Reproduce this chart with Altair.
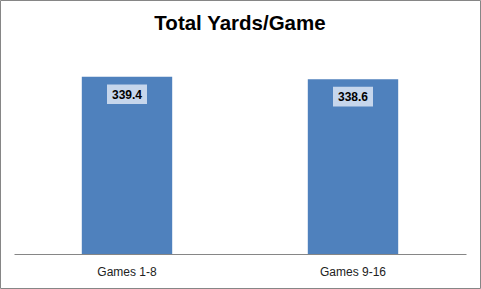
import altair as alt
import pandas as pd

categories = ["Games 1-8", "Games 9-16"]
values = [339.4, 338.6]
labels = ["339.4", "338.6"]

df = pd.DataFrame({"cat": categories, "value": values, "label": labels})

FONT = "Liberation Sans"
x_enc = alt.X("cat:N", sort=categories, title=None,
              scale=alt.Scale(paddingInner=0.6, paddingOuter=0.3),
              axis=alt.Axis(labelAngle=0, ticks=False, domainColor="#868686",
                            labelFont=FONT, labelFontSize=12, labelColor="#222222",
                            labelPadding=21, labelBaseline="alphabetic", domainWidth=1))
y_scale = alt.Scale(domain=[280, 340], nice=False, zero=False)

base = alt.Chart(df)

bars = base.mark_bar(color="#4F81BD", clip=True).encode(
    x=x_enc,
    y=alt.Y("value:Q", scale=y_scale, axis=None),
)

boxes = base.mark_bar(width=40, color="#C6D6EC", yOffset=7.6, y2Offset=27.3).encode(
    x=alt.X("cat:N", sort=categories),
    y=alt.Y("value:Q", scale=y_scale),
    y2="value:Q",
)

texts = base.mark_text(font=FONT, fontSize=12, fontWeight="bold", color="#000000",
                       baseline="alphabetic", dy=21.8).encode(
    x=alt.X("cat:N", sort=categories),
    y=alt.Y("value:Q", scale=y_scale),
    text="label:N",
)

border = alt.Chart(pd.DataFrame({"a": [0]})).mark_rect(
    fill=None, stroke="#868686", strokeWidth=1, clip=False
).encode(
    x=alt.value(-13.5), x2=alt.value(466.5), y=alt.value(-74.5), y2=alt.value(213.5)
)

chart = alt.layer(border, bars, boxes, texts).properties(
    width=452, height=179,
    background="white",
    title=alt.TitleParams("Total Yards/Game", font=FONT, fontSize=20.5, fontWeight="bold",
                          color="#000000", anchor="middle", baseline="alphabetic", offset=-50),
    autosize=alt.AutoSizeParams(type="none"),
    padding={"left": 14, "top": 75, "right": 15, "bottom": 35},
).configure_view(strokeWidth=0, stroke="transparent")

chart.save("out.html", embed_options={"renderer": "svg", "actions": False})
